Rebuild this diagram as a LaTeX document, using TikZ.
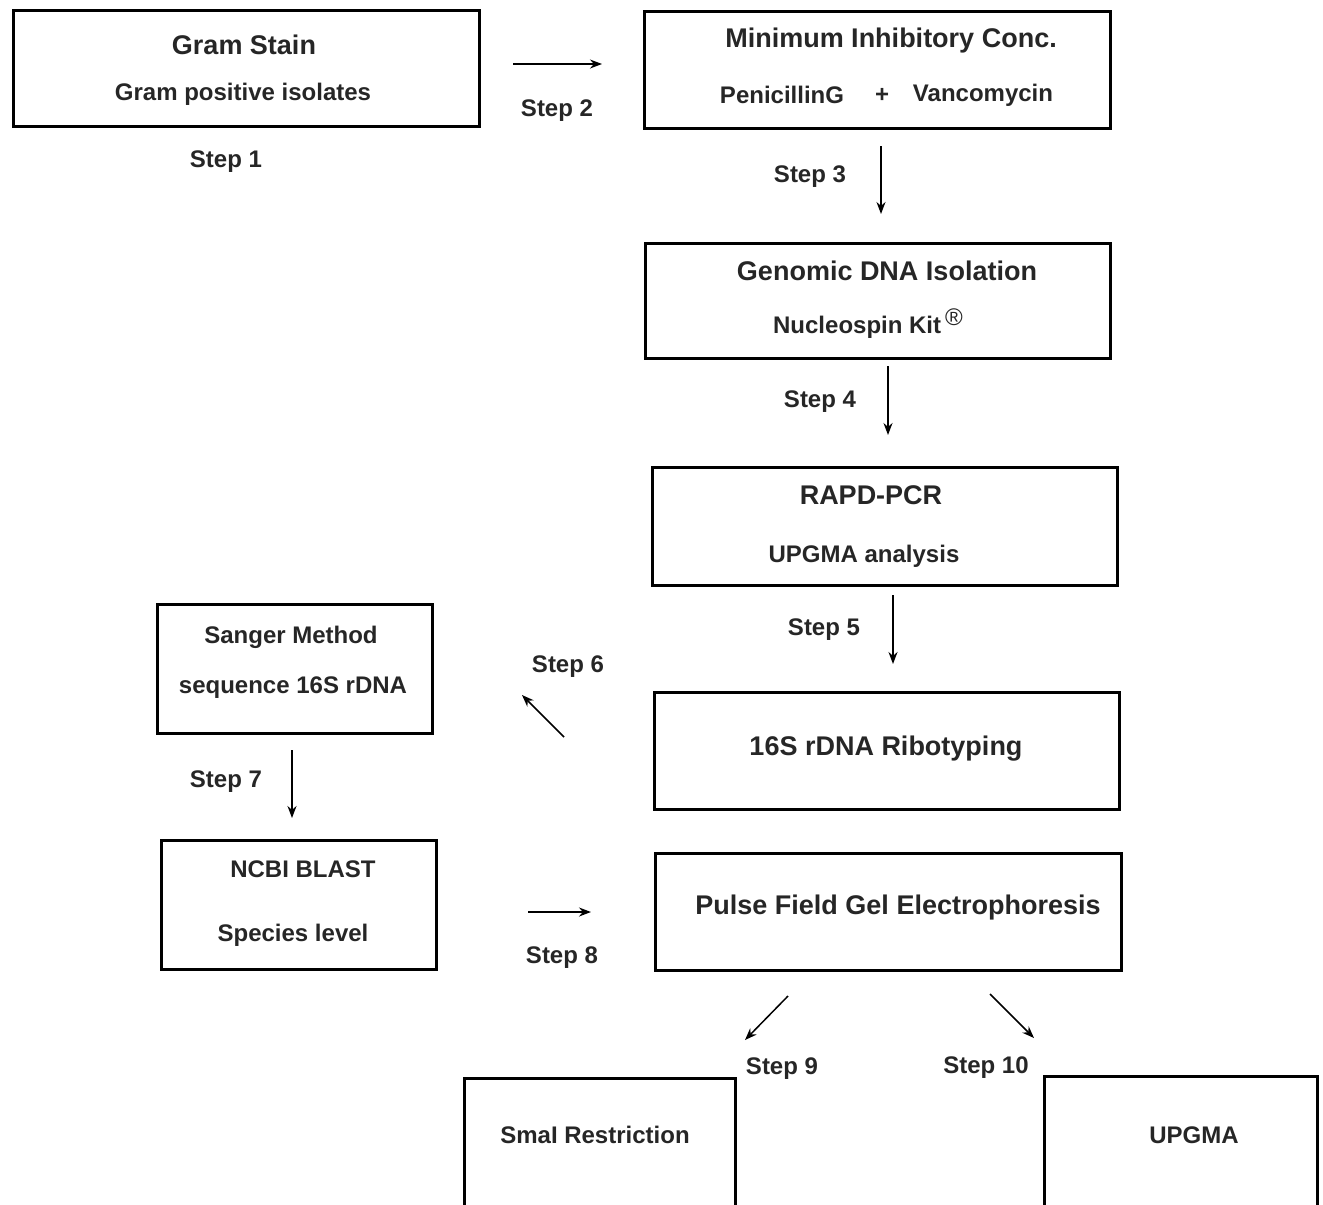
\documentclass[tikz,border=0pt]{standalone}
\usepackage{fontspec}
\setmainfont{Liberation Sans}
\usetikzlibrary{arrows.meta}

\begin{document}
\begin{tikzpicture}[x=0.5pt, y=-0.5pt,
  box/.style={draw, line width=1.5pt, inner sep=0pt},
  title/.style={font=\fontsize{13.5}{16}\selectfont\bfseries, text=black!85, yshift=-1.2pt},
  sub/.style={font=\fontsize{12}{14}\selectfont\bfseries, text=black!85, yshift=-1.2pt},
  steplbl/.style={font=\fontsize{12}{14}\selectfont\bfseries, text=black!85, yshift=-1.5pt},
  flow/.style={line width=0.75pt, -{Stealth[length=6pt,width=4.5pt]}}]

\clip (0,0) rectangle (1323,1205);

% --- Boxes ---
\node[box, minimum width=233pt, minimum height=58pt] (gram) at (246,68) {};
\node[box, minimum width=233pt, minimum height=58.5pt] (mic) at (877,69.5) {};
\node[box, minimum width=232.5pt, minimum height=57.5pt] (dna) at (877.5,300.5) {};
\node[box, minimum width=232.5pt, minimum height=59pt] (rapd) at (884.5,526) {};
\node[box, minimum width=232.5pt, minimum height=58.5pt] (ribo) at (886.5,750.5) {};
\node[box, minimum width=137.5pt, minimum height=64.5pt] (sanger) at (294.5,668.5) {};
\node[box, minimum width=137.5pt, minimum height=64.5pt] (ncbi) at (298.5,904.5) {};
\node[box, minimum width=233pt, minimum height=58.5pt] (pfge) at (888,911.5) {};
\node[box, minimum width=135.5pt, minimum height=111pt] (smai) at (599.5,1189) {}; % runs off the page
\node[box, minimum width=136.5pt, minimum height=112pt] (upgma) at (1180.5,1188) {}; % runs off the page

% --- Box texts ---
\node[title] (gramT) at (244,42) {Gram Stain};
\node[sub] (gramS) at (243,92) {Gram positive isolates};
\node[title] (micT) at (891,38) {Minimum Inhibitory Conc.};
\node[sub] (micP) at (782,93) {PenicillinG};
\node[sub] (micPlus) at (882,93) {+};
\node[sub] (micV) at (983,93) {Vancomycin};
\node[title] (dnaT) at (887,268) {Genomic DNA Isolation};
\node[sub] (dnaS) at (868,321) {Nucleospin Kit\,{\mdseries\fontsize{12}{12}\selectfont\raisebox{4pt}{®}}};
\node[title] (rapdT) at (871,493) {RAPD-PCR};
\node[sub] (rapdS) at (864,554) {UPGMA analysis};
\node[title] (riboT) at (886,746) {16S rDNA Ribotyping};
\node[sub] (sangerT) at (291,635) {Sanger Method};
\node[sub] (sangerS) at (293,685) {sequence 16S rDNA};
\node[sub] (ncbiT) at (303,867) {NCBI BLAST};
\node[sub] (ncbiS) at (293,933) {Species level};
\node[title] (pfgeT) at (898,905) {Pulse Field Gel Electrophoresis};
\node[sub] (smaiT) at (595,1133) {SmaI Restriction};
\node[sub] (upgmaT) at (1194,1133) {UPGMA};

% --- Step arrows ---
\coordinate (s2a) at (513,64);   \coordinate (s2b) at (602,64);
\coordinate (s3a) at (881,146);  \coordinate (s3b) at (881,214);
\coordinate (s4a) at (888,366);  \coordinate (s4b) at (888,435);
\coordinate (s5a) at (893,595);  \coordinate (s5b) at (893,664);
\coordinate (s6a) at (564,737);  \coordinate (s6b) at (522,695);
\coordinate (s7a) at (292,750);  \coordinate (s7b) at (292,818);
\coordinate (s8a) at (528,912);  \coordinate (s8b) at (591,912);
\coordinate (s9a) at (788,996);  \coordinate (s9b) at (745,1040);
\coordinate (s10a) at (990,994); \coordinate (s10b) at (1034,1038);
\draw[flow] (s2a) -- (s2b);
\draw[flow] (s3a) -- (s3b);
\draw[flow] (s4a) -- (s4b);
\draw[flow] (s5a) -- (s5b);
\draw[flow] (s6a) -- (s6b);
\draw[flow] (s7a) -- (s7b);
\draw[flow] (s8a) -- (s8b);
\draw[flow] (s9a) -- (s9b);
\draw[flow] (s10a) -- (s10b);

% --- Step labels ---
\node[steplbl] (step1) at (226,159) {Step 1};
\node[steplbl] (step2) at (557,108) {Step 2};
\node[steplbl] (step3) at (810,174) {Step 3};
\node[steplbl] (step4) at (820,399) {Step 4};
\node[steplbl] (step5) at (824,627) {Step 5};
\node[steplbl] (step6) at (568,664) {Step 6};
\node[steplbl] (step7) at (226,779) {Step 7};
\node[steplbl] (step8) at (562,955) {Step 8};
\node[steplbl] (step9) at (782,1066) {Step 9};
\node[steplbl] (step10) at (986,1065) {Step 10};
\end{tikzpicture}
\end{document}
